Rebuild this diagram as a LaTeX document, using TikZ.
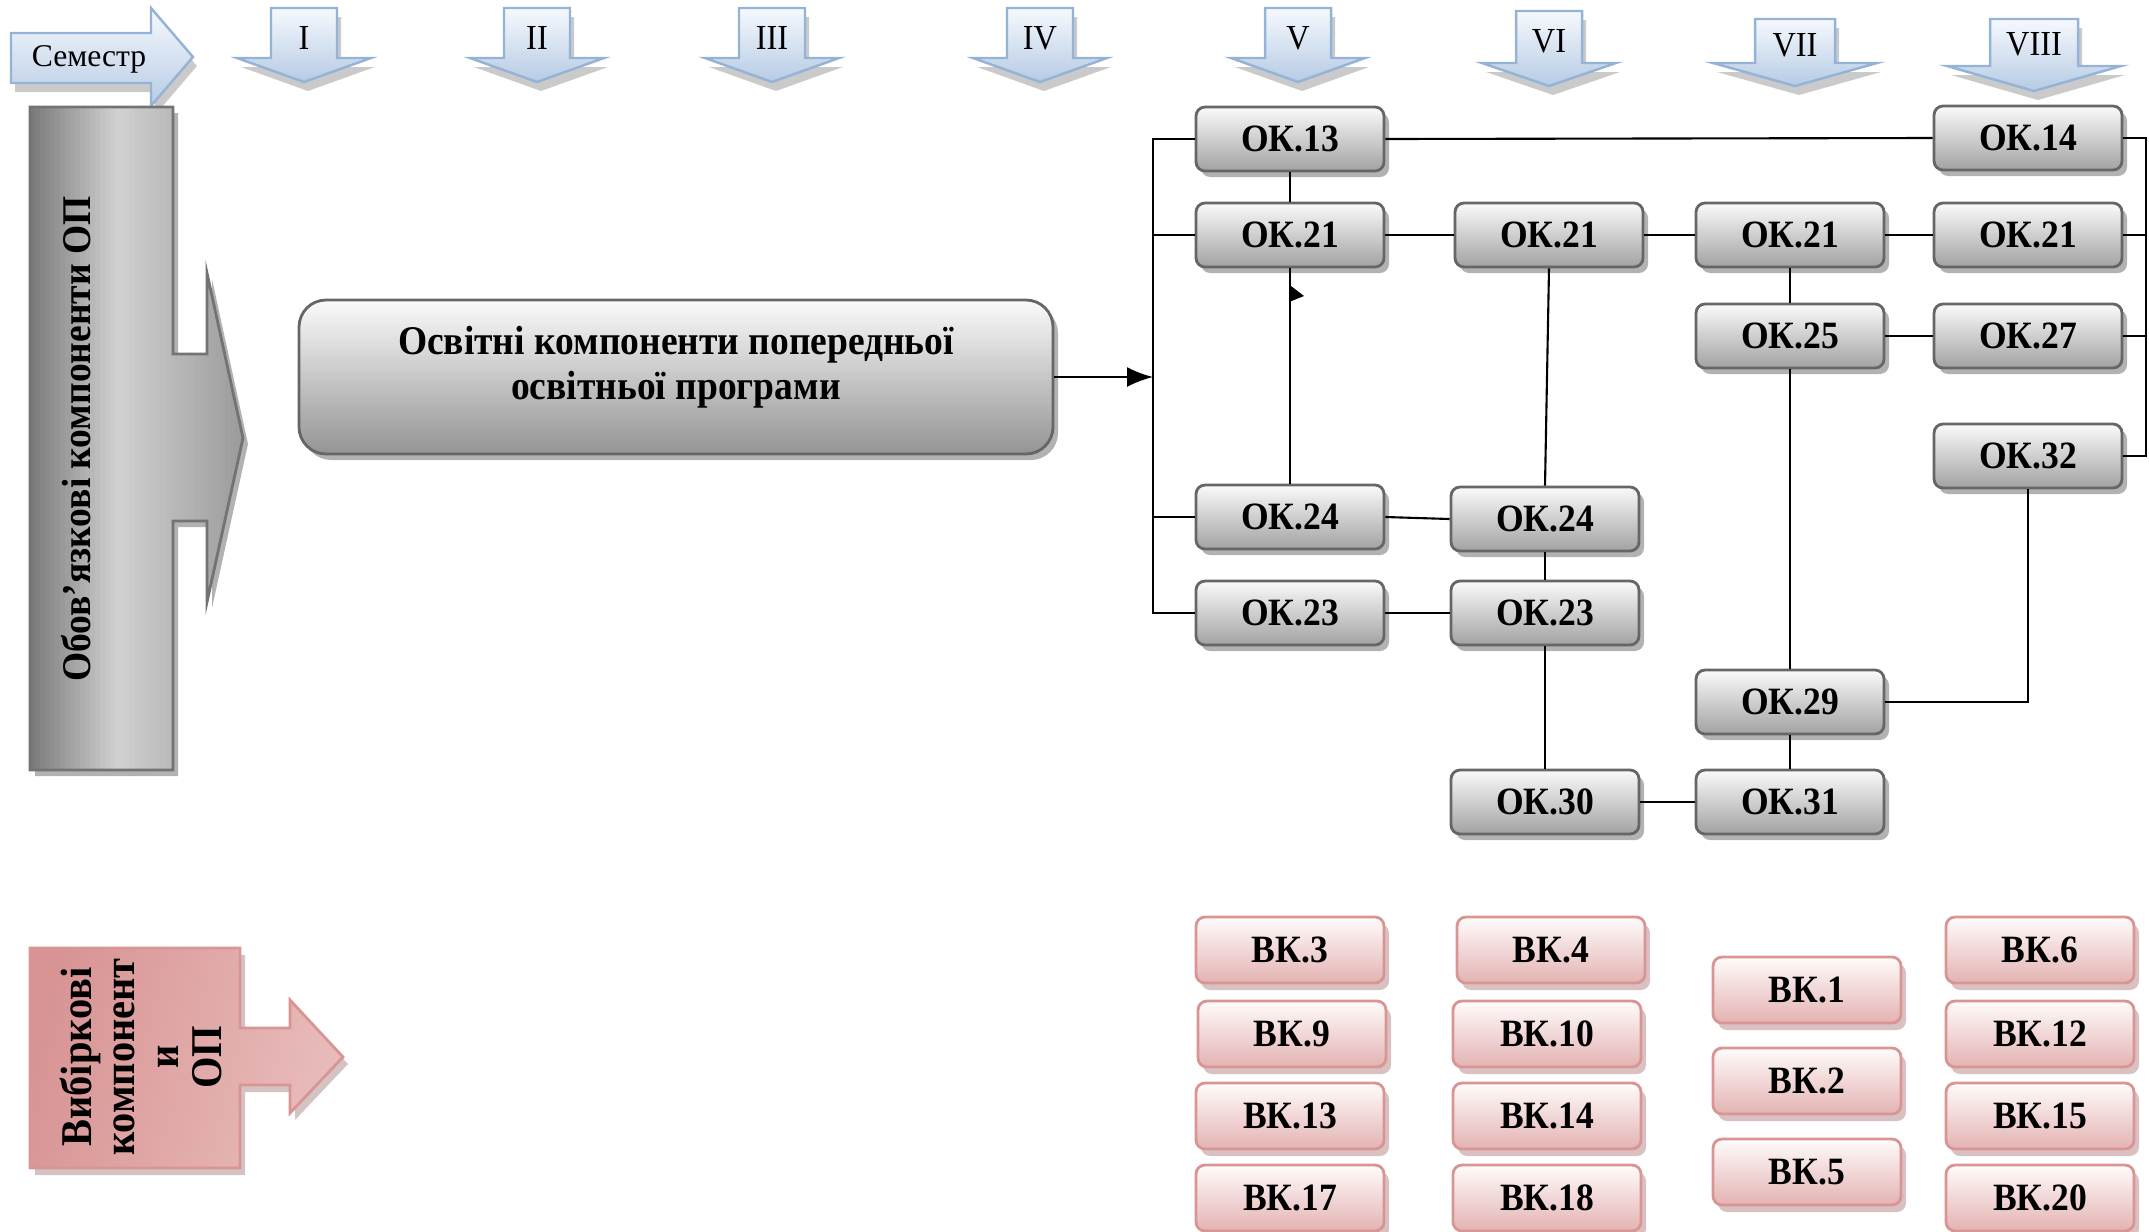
\documentclass[tikz,border=0pt]{standalone}
\usepackage{fontspec}
\setmainfont{Liberation Serif}
\newfontfamily\condf[FakeStretch=0.92]{Liberation Serif}
\usetikzlibrary{shadows,arrows.meta}

\definecolor{bluetop}{HTML}{F6F9FD}
\definecolor{bluebot}{HTML}{B6CBE4}
\definecolor{blueline}{HTML}{95B3D7}
\definecolor{oktop}{HTML}{FAFAFA}
\definecolor{okbot}{HTML}{A2A2A2}
\definecolor{okline}{HTML}{666666}
\definecolor{vktop}{HTML}{FFFBFB}
\definecolor{vkbot}{HTML}{E3B3B2}
\definecolor{vkline}{HTML}{D99594}
\definecolor{pinkdark}{HTML}{D89494}
\definecolor{pinklight}{HTML}{F4E0E0}
\definecolor{pinkmid}{HTML}{E8BCBB}

\newcommand\semarr[9]{%
  \draw[semarrow] ({#2-#6},#3) -- ({#2+#6},#3) -- ({#2+#6},#4) -- ({#2+#7},#4)
     -- (#2,#5) -- ({#2-#7},#4) -- ({#2-#6},#4) -- cycle;
  \node[semlabel] (#1) at (#2,#9) {#8};}

\begin{document}
\begin{tikzpicture}[x=0.1mm,y=-0.1mm,
  semarrow/.style={draw=blueline,line width=0.7pt,top color=bluetop,bottom color=bluebot,
    drop shadow={shadow xshift=0.4mm,shadow yshift=-0.9mm,opacity=0.35,fill=black!60}},
  semlabel/.style={inner sep=0pt,font=\condf\fontsize{10}{12}\selectfont},
  okbox/.style={draw=okline,line width=0.8pt,rounded corners=0.9mm,top color=oktop,bottom color=okbot,
    minimum width=18.8mm,minimum height=6.4mm,inner sep=0pt,
    font=\condf\bfseries\fontsize{11}{12}\selectfont,
    drop shadow={shadow xshift=0.5mm,shadow yshift=-0.6mm,opacity=0.3,fill=black}},
  vkbox/.style={draw=vkline,line width=0.8pt,rounded corners=0.9mm,top color=vktop,bottom color=vkbot,
    minimum width=18.8mm,minimum height=6.6mm,inner sep=0pt,
    font=\condf\bfseries\fontsize{11}{12}\selectfont,
    drop shadow={shadow xshift=0.5mm,shadow yshift=-0.7mm,opacity=0.45,fill=pinkdark!80!black}},
  link/.style={line width=0.6pt,black},
]
\useasboundingbox (0,0) rectangle (2149,1231);

% semester arrow
\draw[semarrow] (11,33) -- (151,33) -- (151,8) -- (193,57) -- (151,106) -- (151,83) -- (11,83) -- cycle;
\node[inner sep=0pt,font=\fontsize{9}{11}\selectfont] (sem) at (89,59) {Семестр};

% semester numbers
\semarr{s1}{304}{8}{58}{82}{33}{67}{I}{38}
\semarr{s2}{537}{8}{58}{82}{33}{67}{II}{38}
\semarr{s3}{772}{8}{58}{82}{33}{67}{III}{38}
\semarr{s4}{1040}{8}{58}{82}{33}{67}{IV}{38}
\semarr{s5}{1298}{8}{58}{82}{33}{67}{V}{38}
\semarr{s6}{1549}{11}{63}{86}{33}{67}{VI}{41}
\semarr{s7}{1795}{19}{63}{86}{40}{82}{VII}{45}
\semarr{s8}{2034}{19}{66}{91}{44}{87}{VIII}{44}

% obligatory components arrow (gradient built from strips)
\draw[draw=black!55,line width=0.8pt,fill=white,
   drop shadow={shadow xshift=0.5mm,shadow yshift=-0.6mm,opacity=0.3,fill=black},
   path picture={
     \foreach \i in {0,...,44} {
       \pgfmathsetmacro\xx{30+5*\i}
       \pgfmathsetmacro\cc{\xx<115 ? 52-(\xx-30)*0.40 : 18+(\xx-115)*0.17}
       \fill[black!\cc] (\xx,100) rectangle ({\xx+5.6},780);
     }}]
  (30,107) -- (173,107) -- (173,354) -- (207,354) -- (207,273) -- (243,438) -- (207,602)
  -- (207,521) -- (173,521) -- (173,770) -- (30,770) -- cycle;
\node[rotate=90,inner sep=0pt,font=\condf\bfseries\fontsize{11.6}{14}\selectfont] (oblig) at (76,439)
  {Обов’язкові компоненти ОП};

% elective components arrow
\draw[draw=vkline,line width=0.8pt,left color=pinkdark,middle color=pinklight,right color=pinkmid,shading angle=75,
   drop shadow={shadow xshift=0.5mm,shadow yshift=-0.7mm,opacity=0.4,fill=pinkdark!70!black}]
  (30,948) -- (240,948) -- (240,1028) -- (290,1028) -- (290,1000) -- (343,1057) -- (290,1113)
  -- (290,1085) -- (240,1085) -- (240,1168) -- (30,1168) -- cycle;
\node[rotate=90,inner sep=0pt,align=center,font=\condf\bfseries\fontsize{12.5}{12.3}\selectfont] (elect) at (141,1057)
  {Вибіркові\\компонент\\и\\ОП};

% main box
\node[draw=okline,line width=0.8pt,rounded corners=2.7mm,top color=oktop,bottom color=black!42,
   minimum width=75.4mm,minimum height=15.4mm,inner sep=0pt,align=center,
   font=\condf\bfseries\fontsize{11.6}{12.8}\selectfont,
   drop shadow={shadow xshift=0.5mm,shadow yshift=-0.6mm,opacity=0.3,fill=black}]
  (main) at (676,377) {Освітні компоненти попередньої\\освітньої програми\\[-4.5pt]};

% OK boxes
\node[okbox] (ok13) at (1290,139) {ОК.13};
\node[okbox] (ok21a) at (1290,235) {ОК.21};
\node[okbox] (ok21b) at (1549,235) {ОК.21};
\node[okbox] (ok21c) at (1790,235) {ОК.21};
\node[okbox] (ok21d) at (2028,235) {ОК.21};
\node[okbox] (ok14) at (2028,138) {ОК.14};
\node[okbox] (ok25) at (1790,336) {ОК.25};
\node[okbox] (ok27) at (2028,336) {ОК.27};
\node[okbox] (ok32) at (2028,456) {ОК.32};
\node[okbox] (ok24a) at (1290,517) {ОК.24};
\node[okbox] (ok24b) at (1545,519) {ОК.24};
\node[okbox] (ok23a) at (1290,613) {ОК.23};
\node[okbox] (ok23b) at (1545,613) {ОК.23};
\node[okbox] (ok29) at (1790,702) {ОК.29};
\node[okbox] (ok30) at (1545,802) {ОК.30};
\node[okbox] (ok31) at (1790,802) {ОК.31};

% VK boxes
\node[vkbox] (vk3) at (1290,950) {ВК.3};
\node[vkbox] (vk9) at (1292,1034) {ВК.9};
\node[vkbox] (vk13) at (1290,1116) {ВК.13};
\node[vkbox] (vk17) at (1290,1198) {ВК.17};
\node[vkbox] (vk4) at (1551,950) {ВК.4};
\node[vkbox] (vk10) at (1547,1034) {ВК.10};
\node[vkbox] (vk14) at (1547,1116) {ВК.14};
\node[vkbox] (vk18) at (1547,1198) {ВК.18};
\node[vkbox] (vk1) at (1807,990) {ВК.1};
\node[vkbox] (vk2) at (1807,1081) {ВК.2};
\node[vkbox] (vk5) at (1807,1172) {ВК.5};
\node[vkbox] (vk6) at (2040,950) {ВК.6};
\node[vkbox] (vk12) at (2040,1034) {ВК.12};
\node[vkbox] (vk15) at (2040,1116) {ВК.15};
\node[vkbox] (vk20) at (2040,1198) {ВК.20};

% buses
\coordinate (lbus) at (1153,0);
\coordinate (rbus) at (2146,0);

\draw[link,-{Latex[length=2.6mm,width=2mm]}] (main.east) -- (main.east -| lbus);
\draw[link] (ok13.west) -- (ok13.west -| lbus) -- (ok23a.west -| lbus) -- (ok23a.west);
\draw[link] (ok21a.west -| lbus) -- (ok21a.west);
\draw[link] (ok24a.west -| lbus) -- (ok24a.west);

\draw[link] (ok14.east) -- (ok14.east -| rbus) -- (ok32.east -| rbus) -- (ok32.east);
\draw[link] (ok21d.east) -- (ok21d.east -| rbus);
\draw[link] (ok27.east) -- (ok27.east -| rbus);

\draw[link] (ok13.east) -- (ok14.west);
\draw[link] (ok13.south) -- (ok21a.north);
\draw[link] (ok24a.north) -- (ok21a.south);
\fill (1289,302) -- (1291,286) -- (1304,296) -- cycle;
\draw[link] (ok21a.east) -- (ok21b.west);
\draw[link] (ok21b.east) -- (ok21c.west);
\draw[link] (ok21c.east) -- (ok21d.west);
\draw[link] (ok21b.south) -- (ok24b.north);
\draw[link] (ok21c.south) -- (ok25.north);
\draw[link] (ok25.east) -- (ok27.west);
\draw[link] (ok25.south) -- (ok29.north);
\draw[link] (ok24a.east) -- (ok24b.west);
\draw[link] (ok24b.south) -- (ok23b.north);
\draw[link] (ok23a.east) -- (ok23b.west);
\draw[link] (ok23b.south) -- (ok30.north);
\draw[link] (ok30.east) -- (ok31.west);
\draw[link] (ok29.south) -- (ok31.north);
\draw[link] (ok32.south) |- (ok29.east);
\end{tikzpicture}
\end{document}
